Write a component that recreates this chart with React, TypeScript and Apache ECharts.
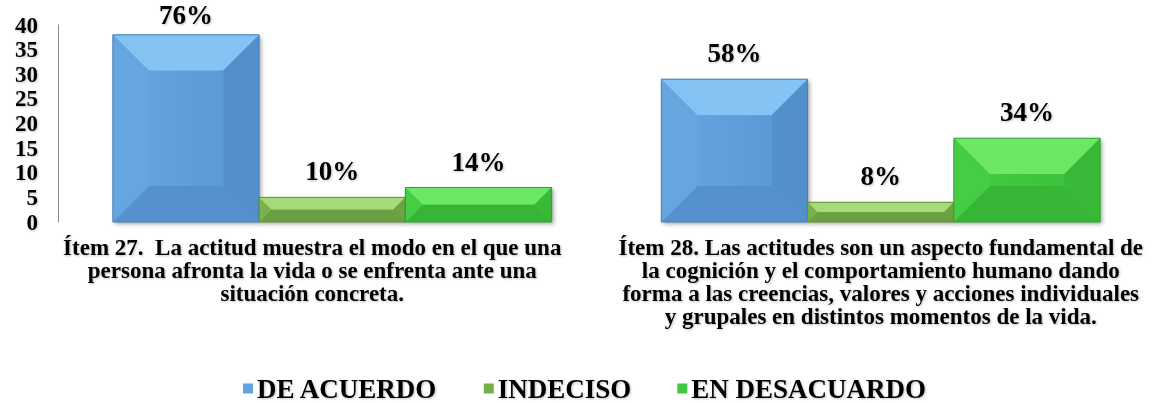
import React, { useEffect, useRef } from "react";
import * as echarts from "echarts";

const categories = [
  "Ítem 27.  La actitud muestra el modo en el que una\npersona afronta la vida o se enfrenta ante una\nsituación concreta.",
  "Ítem 28. Las actitudes son un aspecto fundamental de\nla cognición y el comportamiento humano dando\nforma a las creencias, valores y acciones individuales\ny grupales en distintos momentos de la vida.",
];
const seriesNames = ["DE ACUERDO", "INDECISO", "EN DESACUARDO"];
const deAcuerdo = [38, 29];
const indeciso = [5, 4];
const enDesacuerdo = [7, 17];
const pctDeAcuerdo = ["76%", "58%"];
const pctIndeciso = ["10%", "8%"];
const pctEnDesacuerdo = ["14%", "34%"];
const yTicks = { min: 0, max: 40, interval: 5 };

const palettes = [
  { face: "#62a2df", faceDark: "#5b9ad6", top: "#84c3f4", bottom: "#5592cd", left: "#66a6e0", right: "#5390cb", border: "#4680b8" },
  { face: "#76ae49", faceDark: "#70a745", top: "#a5db79", bottom: "#6b9f43", left: "#79b14c", right: "#6ca443", border: "#5f9139" },
  { face: "#41c941", faceDark: "#3cc23c", top: "#6ce866", bottom: "#37b537", left: "#45cd45", right: "#38b938", border: "#2ea22e" },
];
// Excel shifts the first category's wrapped label slightly left
const labelPaddings = [[0, 40, 0, 0], [0, 0, 0, 0]];

const FONT = "'Liberation Serif', 'Times New Roman', 'DejaVu Serif', serif";
const textShadow = {
  textShadowColor: "rgba(0,0,0,0.25)",
  textShadowBlur: 2,
  textShadowOffsetX: 1,
  textShadowOffsetY: 1,
};

function makeRenderItem(seriesIdx: number, labels: string[]) {
  const p = palettes[seriesIdx];
  return (params: any, api: any) => {
    const cat = api.value(0);
    const val = api.value(1);
    const top = api.coord([cat, val]);
    const base = api.coord([cat, 0]);
    const band = api.size([1, 0])[0];
    const barW = (band * 0.8) / 3;
    const x0 = top[0] - 1.5 * barW + seriesIdx * barW;
    const x1 = x0 + barW;
    const y0 = top[1];
    const y1 = base[1];
    const h = y1 - y0;
    const b = Math.min(36, h / 2, barW / 2);
    const xi0 = x0 + b;
    const xi1 = x1 - b;
    const yi0 = y0 + b;
    const yi1 = y1 - b;
    const children: any[] = [
      {
        type: "rect",
        shape: { x: x0, y: y0, width: barW, height: h },
        style: {
          fill: p.face,
          shadowBlur: 4,
          shadowOffsetX: 2,
          shadowOffsetY: 2,
          shadowColor: "rgba(0,0,0,0.35)",
        },
      },
      {
        type: "polygon",
        shape: { points: [[x0, y0], [x1, y0], [xi1, yi0], [xi0, yi0]] },
        style: { fill: p.top },
      },
      {
        type: "polygon",
        shape: { points: [[x0, y1], [x1, y1], [xi1, yi1], [xi0, yi1]] },
        style: { fill: p.bottom },
      },
      {
        type: "polygon",
        shape: { points: [[x0, y0], [xi0, yi0], [xi0, yi1], [x0, y1]] },
        style: { fill: p.left },
      },
      {
        type: "polygon",
        shape: { points: [[x1, y0], [xi1, yi0], [xi1, yi1], [x1, y1]] },
        style: { fill: p.right },
      },
    ];
    if (yi1 > yi0 && xi1 > xi0) {
      children.push({
        type: "rect",
        shape: { x: xi0, y: yi0, width: xi1 - xi0, height: yi1 - yi0 },
        style: {
          fill: new echarts.graphic.LinearGradient(0, 0, 1, 0, [
            { offset: 0, color: p.face },
            { offset: 1, color: p.faceDark },
          ]),
        },
      });
    }
    children.push({
      type: "rect",
      shape: { x: x0, y: y0, width: barW, height: h },
      style: { fill: "none", stroke: p.border, lineWidth: 1 },
    });
    children.push({
      type: "text",
      x: (x0 + x1) / 2,
      y: Math.max(y0 - 26, 15),
      style: {
        text: labels[params.dataIndex],
        fill: "#000",
        fontSize: 27,
        fontWeight: "bold",
        fontFamily: FONT,
        align: "center",
        verticalAlign: "middle",
        ...textShadow,
      },
    });
    return { type: "group", children };
  };
}

export default function App() {
  const ref = useRef<HTMLDivElement>(null);
  useEffect(() => {
    if (!ref.current) return;
    const chart = echarts.init(ref.current, null, { renderer: "svg" });
    const valueSets = [deAcuerdo, indeciso, enDesacuerdo];
    const labelSets = [pctDeAcuerdo, pctIndeciso, pctEnDesacuerdo];
    chart.setOption({
      animation: false,
      backgroundColor: "#ffffff",
      textStyle: { fontFamily: FONT },
      grid: { left: 58, right: 3, top: 25, bottom: 181, containLabel: false },
      legend: {
        data: seriesNames.map((n) => ({ name: n, icon: "rect" })),
        left: 238,
        top: 370,
        itemWidth: 10,
        itemHeight: 10,
        itemGap: 46,
        textStyle: {
          fontSize: 27,
          fontWeight: "bold",
          color: "#000",
          fontFamily: FONT,
          padding: [0, 0, 0, -1],
          ...textShadow,
        },
      },
      xAxis: {
        type: "category",
        data: categories.map((c, i) => ({
          value: c,
          textStyle: { padding: labelPaddings[i] },
        })),
        axisTick: { show: false },
        axisLine: {
          show: true,
          lineStyle: {
            color: "#8a8a8a",
            width: 1,
            shadowBlur: 3,
            shadowColor: "rgba(0,0,0,0.45)",
            shadowOffsetY: 2,
          },
        },
        axisLabel: {
          interval: 0,
          fontSize: 23,
          lineHeight: 23,
          fontWeight: "bold",
          color: "#000",
          fontFamily: FONT,
          margin: 14,
          align: "center",
          ...textShadow,
        },
        splitLine: { show: false },
      },
      yAxis: {
        type: "value",
        min: yTicks.min,
        max: yTicks.max,
        interval: yTicks.interval,
        axisLine: { show: true, lineStyle: { color: "#8a8a8a", width: 1 } },
        axisTick: { show: false },
        splitLine: { show: false },
        axisLabel: {
          fontSize: 23,
          lineHeight: 24,
          fontWeight: "bold",
          color: "#000",
          fontFamily: FONT,
          margin: 20,
          showMinLabel: true,
          showMaxLabel: true,
          hideOverlap: false,
          ...textShadow,
        },
      },
      series: seriesNames.map((name, si) => ({
        name,
        type: "custom",
        renderItem: makeRenderItem(si, labelSets[si]),
        itemStyle: { color: palettes[si].face },
        encode: { x: 0, y: 1 },
        data: valueSets[si].map((v, i) => [i, v]),
      })),
    });
    return () => chart.dispose();
  }, []);
  return (
    <div
      ref={ref}
      style={{ position: "fixed", left: 0, top: 0, width: 1158, height: 403, background: "#fff" }}
    />
  );
}
